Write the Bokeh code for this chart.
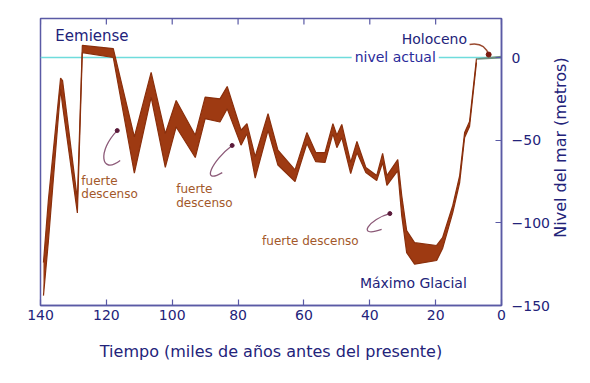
import math
from bokeh.plotting import figure
from bokeh.layouts import row
from bokeh.models import Range1d, FixedTicker, Label, Span
from bokeh.core.properties import value
from bokeh.embed import file_html
from bokeh.resources import INLINE

# ---- data (ka before present, sea level in m) ----
age = [139.1, 137.6, 133.9, 133.3, 128.8, 127.3, 117.9, 111.5, 106.4, 102.1,
       98.8, 93.0, 90.0, 85.5, 83.3, 79.1, 77.3, 74.8, 70.9, 67.9,
       62.7, 59.1, 56.4, 53.6, 51.2, 50.0, 48.5, 45.8, 43.9, 41.2,
       37.9, 36.1, 34.8, 31.5, 30.3, 28.8, 26.4, 19.7, 17.9, 14.8,
       12.7, 11.2, 9.7, 7.6]
upper = [-124, -86, -12.5, -14, -86, 7.3, 5.4, -48, -9, -46,
         -26, -47, -24, -25, -17.5, -44, -40, -60, -34, -56,
         -68, -45.4, -57.5, -57.5, -40, -47, -40.5, -63.5, -50.8, -66.5,
         -71.4, -58, -71.4, -61.7, -83.5, -104.7, -112, -113.7, -109, -89.5,
         -71.4, -45.4, -38.7, -0.6]
lower = [-144, -111, -19, -29, -94, 3, 0, -70, -24, -66.5,
         -42, -60.5, -37, -39, -31, -53, -46, -73, -44, -65,
         -75, -52, -63, -63.5, -46, -54.5, -48.4, -70.2, -57.5, -69.6,
         -74.4, -63.5, -77.4, -68.4, -95.6, -118, -125, -122.8, -115.5, -93.8,
         -75.6, -48.4, -41.7, -3]
holo_age = [7.6, 0.0]
holo_upper = [-0.4, 1.0]
holo_lower = [-1.4, -0.6]

x_ticks = [140, 120, 100, 80, 60, 40, 20, 0]
y_ticks = [0, -50, -100, -150]
Y_TOP = 23.6

x_title = "Tiempo (miles de años antes del presente)"
y_title = "Nivel del mar (metros)"

# annotations: (text, x, y, size)
navy_labels = [("Eemiense", 135.5, 13.3, "15px"),
               ("Holoceno", 30.3, 11.5, "14px"),
               ("Máximo Glacial", 43.0, -136.1, "14px")]
brown_labels = [("fuerte", 127.6, -74.4), ("descenso", 127.6, -82.3),
                ("fuerte", 98.8, -79.3), ("descenso", 98.8, -87.7),
                ("fuerte descenso", 72.7, -110.7)]
# squiggle arrows: head, control 0, control 1, tail end
sq_x0 = [116.7, 81.8, 33.9]
sq_y0 = [-44.2, -53.2, -94.4]
sq_cx0 = [122.7, 87.9, 40.0]
sq_cy0 = [-56.3, -62.3, -97.4]
sq_cx1 = [121.8, 91.5, 44.5]
sq_cy1 = [-71.4, -77.4, -109.5]
sq_x1 = [115.8, 84.8, 36.4]
sq_y1 = [-62.3, -69.6, -104.0]

FONT = "DejaVu Sans"
BAND = "#9e3a12"
EDGE = "#8a2f0c"
NAVY = "#23237a"
FRAME = "#5a5aa5"
CYAN = "#6fdcdc"
BROWN_TXT = "#a3582a"
SQUIG = "#8c5a78"
H = 367

p = figure(width=552, height=H, x_range=Range1d(140, 0), y_range=Range1d(-150, Y_TOP),
           output_backend="svg", toolbar_location=None, y_axis_location="right",
           min_border_left=40, min_border_top=18, min_border_right=50, min_border_bottom=62)
p.xgrid.visible = False
p.ygrid.visible = False
p.outline_line_color = FRAME
p.outline_line_width = 1.5
p.background_fill_color = "white"
p.border_fill_color = "white"

p.add_layout(Span(location=0, dimension="width", line_color=CYAN, line_width=1.6, level="underlay"))

p.varea(x=age, y1=lower, y2=upper, fill_color=BAND)
p.line(age, upper, line_color=EDGE, line_width=1.2)
p.line(age, lower, line_color=EDGE, line_width=1.2)
p.varea(x=holo_age, y1=holo_lower, y2=holo_upper, fill_color="#6e8f80")

# top ticks (inward) drawn as clipped dashes
p.scatter(x=x_ticks, y=[Y_TOP] * len(x_ticks), marker="dash", angle=math.pi / 2,
          size=12, line_color=FRAME, line_width=1.2)

# squiggly arrows
p.bezier(x0=sq_x0, y0=sq_y0, x1=sq_x1, y1=sq_y1, cx0=sq_cx0, cy0=sq_cy0,
         cx1=sq_cx1, cy1=sq_cy1, line_color=SQUIG, line_width=1.3)
p.scatter(sq_x0, sq_y0, size=4, color="#5a1a3a")
# Holoceno arrow
p.bezier(x0=[9.7], y0=[7.9], x1=[3.9], y1=[1.6], cx0=[6.0], cy0=[9.2],
         cx1=[4.6], cy1=[6.0], line_color="#9a4a30", line_width=1.5)
p.scatter([3.9], [1.8], size=5, color="#7a1a10")

# axes
xa = p.xaxis[0]
xa.ticker = FixedTicker(ticks=x_ticks)
ya = p.yaxis[0]
ya.ticker = FixedTicker(ticks=y_ticks)
for ax in (xa, ya):
    ax.axis_line_color = FRAME
    ax.axis_line_width = 1.5
    ax.major_tick_line_color = FRAME
    ax.major_tick_line_width = 1.2
    ax.major_tick_in = 6
    ax.major_tick_out = 0
    ax.minor_tick_line_color = None
    ax.major_label_text_font = FONT
    ax.major_label_text_font_size = "14px"
    ax.major_label_text_color = NAVY
xa.major_label_standoff = 4
ya.major_label_standoff = 10
xa.axis_label = x_title
xa.axis_label_text_font = FONT
xa.axis_label_text_font_size = "16px"
xa.axis_label_text_font_style = "normal"
xa.axis_label_text_color = NAVY
xa.axis_label_standoff = 19

for t, x, y, fs in navy_labels:
    p.add_layout(Label(x=x, y=y, text=t, text_font=FONT, text_font_size=fs,
                       text_color=NAVY, text_baseline="middle"))
p.add_layout(Label(x=45.5, y=0.6, text="nivel actual", text_font=FONT, text_font_size="14px",
                   text_color="#2a2a9a", text_baseline="middle",
                   background_fill_color="white", padding=3))
for t, x, y in brown_labels:
    p.add_layout(Label(x=x, y=y, text=t, text_font=FONT, text_font_size="12px",
                       text_color=BROWN_TXT, text_baseline="middle"))

# narrow strip holding the rotated y-axis title (reads bottom to top)
q = figure(width=20, height=H, x_range=Range1d(0, 1), y_range=Range1d(H, 0),
           output_backend="svg", toolbar_location=None, min_border=0)
q.axis.visible = False
q.grid.visible = False
q.outline_line_color = None
q.background_fill_color = "white"
q.border_fill_color = "white"
q.text(x=[0.4], y=[165], text=[y_title], angle=math.pi / 2, text_align="center",
       text_baseline="middle", text_font=value(FONT), text_font_size="16px",
       text_color=NAVY)

layout = row(p, q, spacing=0)
open("out.html", "w").write(file_html(layout, INLINE))
